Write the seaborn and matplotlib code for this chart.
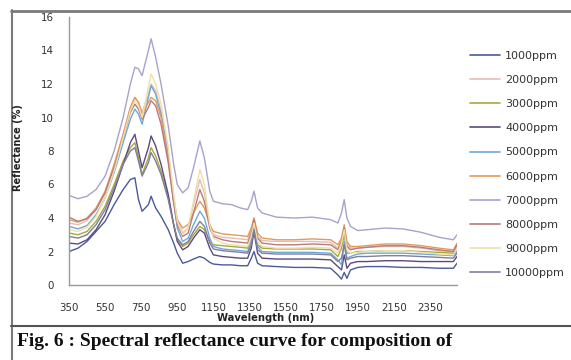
import matplotlib
matplotlib.use("Agg")
import matplotlib.pyplot as plt
from matplotlib.lines import Line2D
import numpy as np
import pandas as pd
import seaborn as sns

# Wavelength samples (nm)
wavelength = [350, 400, 450, 500, 550, 600, 650, 690, 715, 735,
              755, 790, 805, 830, 860, 900, 930, 950, 980, 1010,
              1040, 1075, 1100, 1130, 1150, 1200, 1250, 1300, 1340, 1360,
              1375, 1395, 1420, 1500, 1600, 1700, 1800, 1840, 1860, 1875,
              1890, 1910, 1950, 2000, 2100, 2200, 2300, 2400, 2480, 2500]

# Reflectance (%) for each concentration
r1000 = [2.0, 2.2, 2.6, 3.2, 3.8, 4.8, 5.7, 6.3, 6.4, 5.1,
         4.4, 4.8, 5.3, 4.6, 4.1, 3.3, 2.5, 1.9, 1.3, 1.4,
         1.55, 1.7, 1.6, 1.35, 1.25, 1.2, 1.2, 1.15, 1.15, 1.6,
         2.0, 1.3, 1.15, 1.1, 1.05, 1.05, 1.0, 0.6, 0.35, 0.75,
         0.4, 0.9, 1.05, 1.1, 1.1, 1.05, 1.05, 1.0, 1.0, 1.3]
r2000 = [3.7, 3.6, 3.85, 4.5, 5.5, 7.1, 9.0, 10.6, 11.2, 10.9,
         10.3, 11.4, 12.0, 11.6, 10.4, 7.9, 5.3, 3.9, 3.1, 3.4,
         4.8, 6.3, 5.5, 3.6, 3.0, 2.85, 2.8, 2.75, 2.7, 3.3,
         4.0, 2.9, 2.65, 2.6, 2.6, 2.6, 2.55, 2.2, 2.7, 3.5,
         2.4, 2.2, 2.2, 2.25, 2.3, 2.3, 2.2, 2.05, 2.0, 2.4]
r3000 = [3.1, 3.0, 3.2, 3.8, 4.7, 6.0, 7.4, 8.2, 8.5, 7.6,
         6.6, 7.6, 8.2, 7.7, 6.8, 5.2, 3.6, 2.7, 2.3, 2.5,
         3.0, 3.5, 3.3, 2.6, 2.4, 2.35, 2.3, 2.25, 2.2, 2.8,
         3.6, 2.4, 2.2, 2.15, 2.15, 2.15, 2.1, 1.7, 2.2, 3.0,
         1.9, 1.9, 2.0, 2.0, 2.05, 2.05, 2.0, 1.95, 1.9, 2.2]
r4000 = [2.5, 2.45, 2.7, 3.3, 4.2, 5.6, 7.2, 8.5, 9.0, 8.0,
         7.0, 8.2, 8.9, 8.3, 7.2, 5.4, 3.6, 2.6, 2.1, 2.3,
         2.8, 3.3, 3.1, 2.2, 1.8, 1.7, 1.65, 1.6, 1.6, 2.2,
         3.2, 1.9, 1.6, 1.55, 1.55, 1.55, 1.5, 1.1, 0.9, 1.8,
         1.0, 1.3, 1.4, 1.4, 1.45, 1.45, 1.4, 1.4, 1.4, 1.7]
r5000 = [3.5, 3.35, 3.55, 4.2, 5.2, 6.7, 8.5, 9.9, 10.5, 10.2,
         9.6, 11.2, 11.9, 11.4, 10.2, 7.7, 5.0, 3.4, 2.6, 2.8,
         3.6, 4.4, 4.0, 2.8, 2.3, 2.15, 2.1, 2.05, 2.0, 2.6,
         3.5, 2.3, 2.0, 1.95, 1.95, 1.95, 1.9, 1.5, 1.2, 2.6,
         1.6, 1.7, 1.85, 1.9, 1.9, 1.9, 1.85, 1.8, 1.75, 2.0]
r6000 = [3.9, 3.75, 4.0, 4.6, 5.6, 7.2, 9.0, 10.6, 11.2, 10.9,
         10.2, 10.9, 11.2, 11.0, 10.0, 7.5, 5.0, 3.9, 3.4, 3.6,
         4.3, 5.0, 4.6, 3.6, 3.2, 3.05, 3.0, 2.95, 2.9, 3.4,
         4.0, 3.1, 2.8, 2.7, 2.7, 2.75, 2.7, 2.4, 2.8, 3.6,
         2.6, 2.3, 2.3, 2.35, 2.45, 2.45, 2.35, 2.2, 2.1, 2.5]
r7000 = [5.35, 5.15, 5.3, 5.7, 6.5, 8.0, 10.0, 12.0, 13.0, 12.9,
         12.5, 14.0, 14.7, 13.6, 12.0, 9.5, 7.2, 6.0, 5.5, 5.8,
         7.0, 8.6, 7.6, 5.6, 5.0, 4.85, 4.8, 4.6, 4.5, 5.0,
         5.6, 4.6, 4.3, 4.05, 4.0, 4.05, 3.9, 3.7, 4.3, 5.1,
         4.0, 3.5, 3.25, 3.3, 3.4, 3.35, 3.15, 2.85, 2.7, 3.0]
r8000 = [4.05, 3.8, 3.95, 4.5, 5.5, 7.0, 8.8, 10.3, 10.8, 10.5,
         9.9, 10.6, 11.0, 10.7, 9.6, 7.3, 4.9, 3.6, 2.9, 3.1,
         4.3, 5.7, 5.0, 3.4, 2.9, 2.7, 2.6, 2.55, 2.5, 3.1,
         3.9, 2.8, 2.5, 2.4, 2.4, 2.45, 2.4, 2.1, 2.6, 3.4,
         2.3, 2.1, 2.2, 2.25, 2.35, 2.35, 2.25, 2.1, 2.0, 2.4]
r9000 = [3.3, 3.2, 3.45, 4.1, 5.2, 6.8, 8.8, 10.4, 11.0, 10.7,
         10.0, 11.8, 12.6, 12.0, 10.8, 8.2, 5.4, 3.8, 3.0, 3.4,
         5.0, 6.9, 6.0, 3.6, 2.8, 2.5, 2.4, 2.35, 2.3, 2.9,
         3.7, 2.6, 2.3, 2.2, 2.2, 2.25, 2.2, 1.9, 2.5, 3.3,
         2.1, 1.9, 1.95, 2.0, 2.05, 2.05, 1.95, 1.85, 1.8, 2.2]
r10000 = [2.9, 2.8, 3.0, 3.6, 4.5, 5.8, 7.2, 8.0, 8.2, 7.4,
          6.5, 7.3, 7.9, 7.4, 6.6, 5.1, 3.6, 2.8, 2.4, 2.6,
          3.2, 3.8, 3.5, 2.5, 2.15, 2.05, 2.0, 1.95, 1.9, 2.4,
          3.3, 2.1, 1.9, 1.85, 1.85, 1.85, 1.8, 1.4, 1.6, 2.4,
          1.5, 1.6, 1.7, 1.7, 1.75, 1.75, 1.7, 1.65, 1.6, 1.9]

labels = ["1000ppm", "2000ppm", "3000ppm", "4000ppm", "5000ppm",
          "6000ppm", "7000ppm", "8000ppm", "9000ppm", "10000ppm"]
series = [r1000, r2000, r3000, r4000, r5000, r6000, r7000, r8000, r9000, r10000]
colors = ["#4A5A9A", "#E6BCB4", "#A8A83C", "#5C4A7E", "#6FA8D8",
          "#E39B5B", "#A8A2CC", "#B97B7B", "#EEE0A8", "#7E7F9E"]

x_ticks = list(range(350, 2351, 200))
y_ticks = list(range(0, 17, 2))

df = pd.concat(
    [pd.DataFrame({"Wavelength": wavelength, "Reflectance": vals, "Series": lab})
     for lab, vals in zip(labels, series)],
    ignore_index=True,
)

sns.set_theme(style="white")
plt.rcParams["font.family"] = ["DejaVu Sans"]

W, H = 571, 360
fig = plt.figure(figsize=(W / 100, H / 100), dpi=100)
fig.patch.set_facecolor("white")

ax = fig.add_axes([69 / W, 1 - 285 / H, (457 - 69) / W, (285 - 17) / H])
palette = dict(zip(labels, colors))
sns.lineplot(data=df, x="Wavelength", y="Reflectance", hue="Series",
             hue_order=labels, palette=palette, estimator=None, sort=False,
             linewidth=1.0, ax=ax, legend=False)

ax.set_xlim(350, 2500)
ax.set_ylim(0, 16)
ax.set_xticks(x_ticks)
ax.set_yticks(y_ticks)
ax.set_xticklabels([str(t) for t in x_ticks])
ax.set_yticklabels([str(t) for t in y_ticks])
for side in ("top", "right"):
    ax.spines[side].set_visible(False)
for side in ("left", "bottom"):
    ax.spines[side].set_color("#9a9a9a")
    ax.spines[side].set_linewidth(1.0)
ax.tick_params(axis="both", direction="out", length=4, width=0.8,
               color="#9a9a9a", labelsize=7.4, labelcolor="#333333")
ax.tick_params(axis="x", pad=9)
ax.tick_params(axis="y", pad=7)
ax.set_xlabel("")
ax.set_ylabel("")

fig.text(266 / W, 1 - 318 / H, "Wavelength (nm)", ha="center", va="center",
         fontsize=7.2, fontweight="bold", color="#222222")
fig.text(18 / W, 1 - 148 / H, "Reflectance (%)", ha="center", va="center",
         rotation=90, fontsize=7.0, fontweight="bold", color="#222222")

handles = [Line2D([0], [0], color=c, lw=1.2) for c in colors]
fig.legend(handles, labels, loc="upper left",
           bbox_to_anchor=(470 / W, 1 - 51 / H), frameon=False,
           fontsize=8, handlelength=2.7, handletextpad=0.45,
           labelspacing=1.27, borderaxespad=0, borderpad=0,
           labelcolor="#333333")

# Figure frame: top rule, left rule and the caption separator
fig.add_artist(Line2D([11 / W, 1], [1 - 11 / H, 1 - 11 / H], color="#7a7a7a", lw=2.0))
fig.add_artist(Line2D([11.5 / W, 11.5 / W], [1 - 10 / H, 0], color="#7a7a7a", lw=1.5))
fig.add_artist(Line2D([11 / W, 1], [1 - 326 / H, 1 - 326 / H], color="#555555", lw=1.5))

fig.text(17 / W, 1 - 342 / H,
         "Fig. 6 : Spectral reflectance curve for composition of",
         ha="left", va="center", fontsize=14, fontweight="bold",
         family="Liberation Serif", color="#111111")

fig.savefig("out.png", dpi=100, facecolor="white")
